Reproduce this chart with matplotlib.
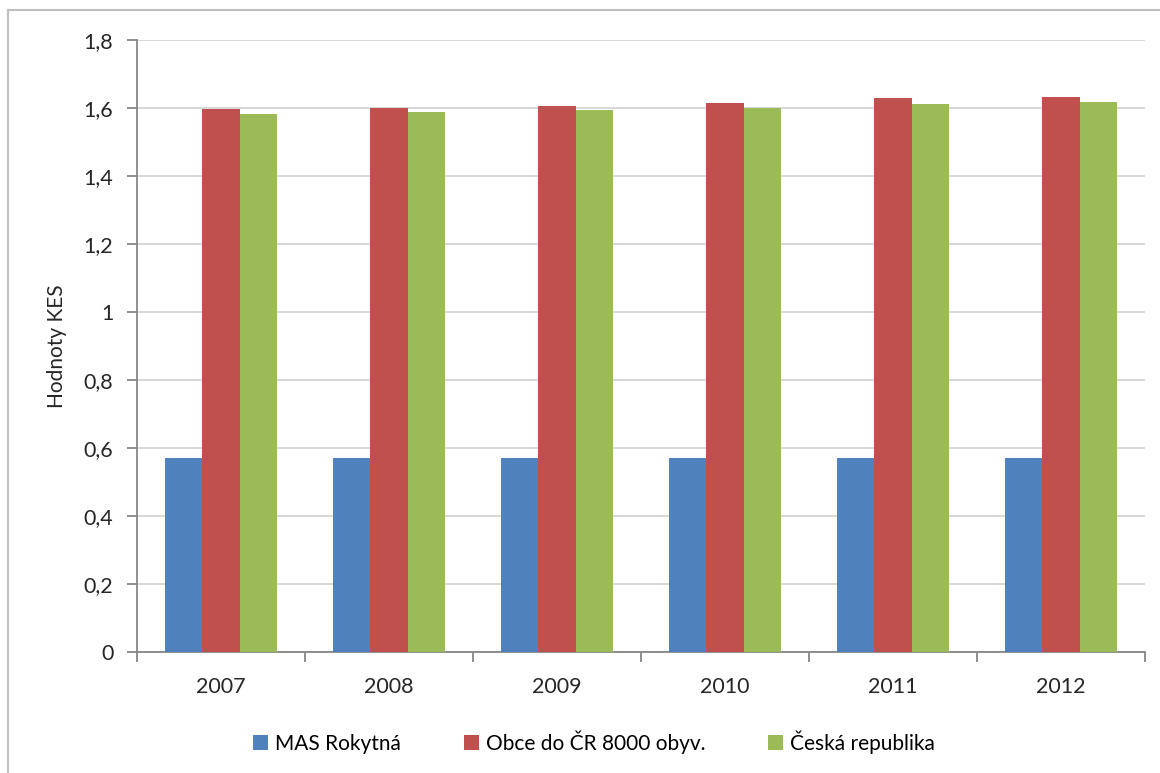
import matplotlib.pyplot as plt
import numpy as np
from matplotlib.patches import Rectangle
from matplotlib.ticker import FuncFormatter, MultipleLocator

plt.rcParams['font.family'] = ['Lato', 'DejaVu Sans']

years = ['2007', '2008', '2009', '2010', '2011', '2012']
mas = [0.572, 0.572, 0.572, 0.572, 0.572, 0.572]
obce = [1.596, 1.600, 1.607, 1.615, 1.629, 1.633]
cr = [1.583, 1.587, 1.595, 1.600, 1.612, 1.617]
series_names = ['MAS Rokytná', 'Obce do ČR 8000 obyv.', 'Česká republika']
colors = ['#4F81BD', '#C0504D', '#9BBB59']

fs = 15.5
fig = plt.figure(figsize=(11.6, 7.73), dpi=100)
# outer chart frame
fig.patches.append(Rectangle((8/1160, -0.02), 1.2, (773-10)/773 + 0.02, transform=fig.transFigure,
                             fill=False, edgecolor='#BFBFBF', lw=1.5))

ax = fig.add_axes([137/1160, 121/773, 1008/1160, 612/773])

x = np.arange(len(years))
w = 1/4.5
for i, (vals, name, c) in enumerate(zip([mas, obce, cr], series_names, colors)):
    ax.bar(x + (i-1)*w, vals, width=w, color=c, label=name, zorder=3)

ax.set_xlim(-0.5, len(years) - 0.5)
ax.set_ylim(0, 1.8)
ax.yaxis.set_major_locator(MultipleLocator(0.2))
ax.yaxis.set_major_formatter(FuncFormatter(lambda v, p: ('%g' % round(v, 1)).replace('.', ',')))
ax.grid(axis='y', color='#D4D4D4', lw=1.3, zorder=0)

ax.set_xticks(x)
ax.set_xticklabels(years)
ax.set_xticks(np.arange(-0.5, len(years)), minor=True)
ax.tick_params(axis='x', which='major', length=0, pad=18, labelsize=fs, colors='#262626')
ax.tick_params(axis='x', which='minor', length=7, color='#868686', width=1.3)
ax.tick_params(axis='y', length=7, color='#868686', width=1.3, pad=10, labelsize=fs,
               labelcolor='#262626')

for s in ['top', 'right']:
    ax.spines[s].set_visible(False)
for s in ['left', 'bottom']:
    ax.spines[s].set_color('#868686')
    ax.spines[s].set_linewidth(1.3)

ax.set_ylabel('Hodnoty KES', fontsize=fs - 0.5, color='#262626', labelpad=12)

handles, labels = ax.get_legend_handles_labels()
fig.legend(handles, labels, loc='center', bbox_to_anchor=(594/1160, 1 - 742/773), ncol=3,
           frameon=False, fontsize=fs - 0.5, handlelength=0.72, handleheight=0.72,
           handletextpad=0.35, columnspacing=3.0)

fig.savefig('out.png', dpi=100)
